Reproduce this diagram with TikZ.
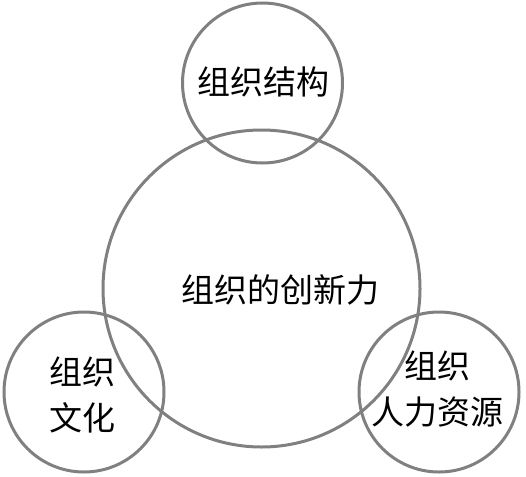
\documentclass[tikz,border=0pt]{standalone}
\usepackage{fontspec}
\newfontfamily\cjk{Noto Sans CJK SC}
\begin{document}
\begin{tikzpicture}[x=1pt,y=-1pt,
    ring/.style ={circle, draw=black!50, line width=3pt, inner sep=0pt},
    caption/.style ={font=\cjk\fontsize{33}{46}\selectfont, align=center, inner sep=0pt}]
   \useasboundingbox (0,0) rectangle (526,476);
   \node[ring, minimum size=317pt] (core)  at (261.5,288.5) {};
   \node[ring, minimum size=160pt] (struct) at (262.5,83) {};
   \node[ring, minimum size=160pt] (culture) at (84,392) {};
   \node[ring, minimum size=160pt] (human) at (439,392) {};

   \node[caption] (coreT) at (280,290) {组织的创新力};
   \node[caption] (structT) at (263,82) {组织结构};
   \node[caption] (cultureT) at (82,395) {组织\\文化};
   \node[caption] (humanT) at (437,389) {组织\\人力资源};
 \end{tikzpicture}
\end{document}
